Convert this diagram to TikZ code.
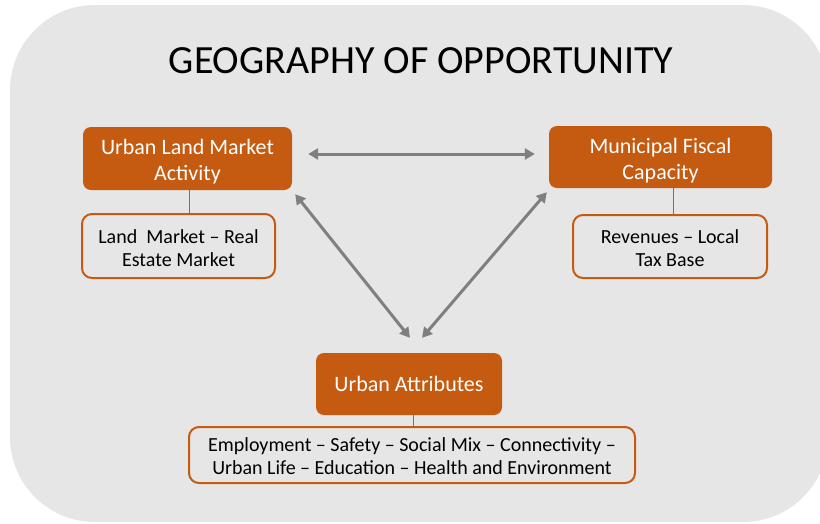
\documentclass[tikz,border=0pt]{standalone}
\usepackage{fontspec}
\setmainfont{Carlito}
\usetikzlibrary{arrows.meta}
\definecolor{rust}{HTML}{C55A11}
\definecolor{panel}{HTML}{E7E6E6}
\definecolor{linkgray}{HTML}{7F7F7F}
% invisible rule that sets the height of a first line
\newcommand{\padtop}[1]{\rule{0pt}{#1}}
\tikzset{
  headbox/.style={draw=none, fill=rust, rounded corners=8pt, text=white,
    font=\fontsize{22}{26}\selectfont, align=center, inner sep=0pt},
  detailbox/.style={draw=rust, line width=2pt, rounded corners=10pt, text=black,
    font=\fontsize{20}{23}\selectfont, align=center, inner sep=0pt},
  tieline/.style={draw=rust, line width=1pt},
  link/.style={draw=linkgray, line width=3pt,
    {Triangle[length=10pt,width=11pt]}-{Triangle[length=10pt,width=11pt]}}
}
\begin{document}
\begin{tikzpicture}[x=1pt,y=-1pt]
\useasboundingbox (0,0) rectangle (820,523);
% backdrop panel
\fill[panel, rounded corners=85pt] (10,5) rectangle (828,522);
% title
\node[anchor=base, font=\fontsize{40}{44}\selectfont, text=black] (title) at (421,73) {GEOGRAPHY OF OPPORTUNITY};
% headline boxes
\node[headbox, minimum width=209pt, minimum height=63pt] (land) at (187.5,158.5) {\padtop{22pt}Urban Land Market\\Activity};
\node[headbox, minimum width=223pt, minimum height=62pt] (fiscal) at (660.5,157) {\padtop{22pt}Municipal Fiscal\\Capacity};
\node[headbox, minimum width=186pt, minimum height=62pt] (attr) at (409,384) {Urban Attributes};
% detail boxes
\node[detailbox, minimum width=193pt, minimum height=64pt] (landd) at (178.5,246) {\padtop{18pt}Land\ \ Market -- Real\\Estate Market};
\node[detailbox, minimum width=194pt, minimum height=63pt] (fiscald) at (670,246.5) {\padtop{18pt}Revenues -- Local\\Tax Base};
\node[detailbox, minimum width=446pt, minimum height=56pt] (attrd) at (412,455) {\padtop{16pt}Employment -- Safety -- Social Mix -- Connectivity --\\Urban Life -- Education -- Health and Environment};
% ties between headline and detail boxes
\draw[tieline] ([xshift=1.5pt]land.south) -- ([xshift=1.5pt]land.south |- landd.north);
\draw[tieline] ([xshift=3pt]fiscald.north) -- ([xshift=3pt]fiscald.north |- fiscal.south);
\draw[tieline] ([xshift=4pt]attr.south) -- ([xshift=4pt]attr.south |- attrd.north);
% two-way links
\draw[link] ([xshift=16pt,yshift=4.5pt]land.east) -- ([xshift=-14pt,yshift=3pt]fiscal.west);
\draw[link] ([xshift=3pt,yshift=-4pt]land.south east) -- ([xshift=1pt,yshift=15pt]attr.north);
\draw[link] ([xshift=-2pt,yshift=-4pt]fiscal.south west) -- ([xshift=13pt,yshift=15pt]attr.north);
\end{tikzpicture}
\end{document}
